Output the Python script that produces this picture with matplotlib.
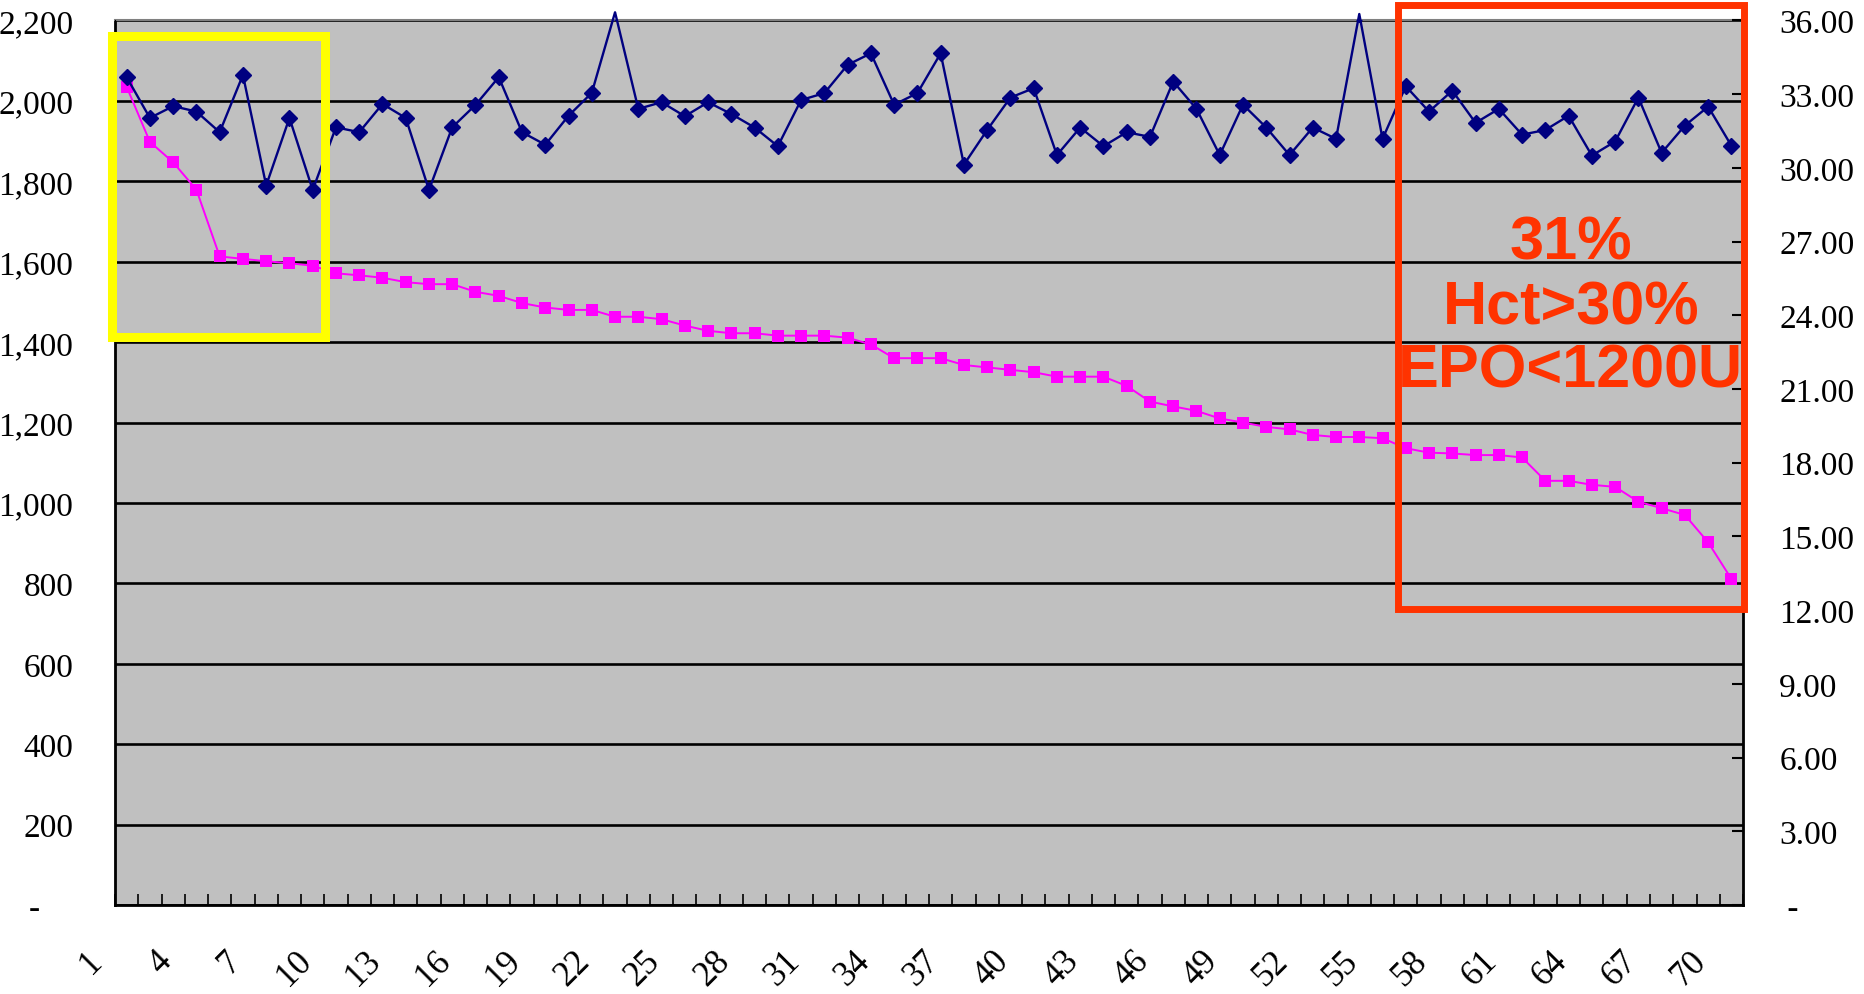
import matplotlib

matplotlib.use("Agg")
import matplotlib.pyplot as plt
import matplotlib.transforms as mtransforms
from matplotlib.patches import Rectangle

patients = list(range(1, 71))
epo_dose = [2035, 1898, 1847, 1779, 1613, 1607, 1601, 1596, 1590, 1571,
            1566, 1560, 1549, 1544, 1544, 1525, 1515, 1497, 1486, 1480,
            1480, 1463, 1463, 1457, 1441, 1428, 1422, 1422, 1416, 1416,
            1416, 1411, 1394, 1360, 1360, 1360, 1343, 1337, 1331, 1325,
            1314, 1314, 1314, 1291, 1252, 1240, 1229, 1210, 1200, 1189,
            1183, 1169, 1164, 1164, 1161, 1136, 1125, 1123, 1119, 1119,
            1113, 1055, 1055, 1045, 1040, 1003, 987, 970, 902, 811]
hct = [33.69, 32.03, 32.51, 32.29, 31.45, 33.78, 29.28, 32.03, 29.10, 31.65,
       31.45, 32.60, 32.03, 29.10, 31.65, 32.56, 33.69, 31.45, 30.94, 32.12,
       33.05, 36.33, 32.40, 32.67, 32.10, 32.67, 32.19, 31.64, 30.88, 32.76,
       33.04, 34.19, 34.66, 32.57, 33.04, 34.66, 30.13, 31.54, 32.86, 33.24,
       30.52, 31.64, 30.88, 31.45, 31.26, 33.51, 32.40, 30.52, 32.57, 31.64,
       30.52, 31.64, 31.18, 36.26, 31.18, 33.32, 32.29, 33.14, 31.83, 32.40,
       31.35, 31.54, 32.12, 30.50, 31.07, 32.86, 30.61, 31.72, 32.49, 30.90]

left_ticks = list(range(0, 2201, 200))
right_ticks = list(range(0, 37, 3))
x_label_ticks = list(range(1, 71, 3))
note_lines = ["31%", "Hct>30%", "EPO<1200U"]

serif = "Liberation Serif"
label_size = 24

fig = plt.figure(figsize=(18.64, 9.95), dpi=100)
ax = fig.add_axes([0.0617, 0.0894, 0.8734, 0.8891])
ax.set_facecolor("#c0c0c0")
ax2 = ax.twinx()

# left axis: EPO dose
ax.plot(patients, epo_dose, color="#ff00ff", linewidth=1.4, marker="s",
        markersize=8.5, markeredgewidth=0, zorder=4)
ax.set_xlim(0.5, 70.5)
ax.set_ylim(0, 2200)
ax.set_yticks(left_ticks)
ax.set_yticklabels(["-    " if v == 0 else f"{v:,}" for v in left_ticks],
                   fontfamily=serif, fontsize=label_size)
ax.tick_params(axis="y", length=0, pad=30)
ax.grid(axis="y", color="black", linewidth=1.9, zorder=1)
ax.set_axisbelow(True)

# x axis: boundary ticks inward, labels every 3 patients
ax.set_xticks([b + 0.5 for b in range(0, 71)], minor=True)
ax.set_xticks(x_label_ticks)
ax.set_xticklabels([str(v) for v in x_label_ticks], rotation=45,
                   ha="right", va="top", fontfamily=serif, fontsize=25)
ax.tick_params(axis="x", which="major", length=0, pad=28)
ax.tick_params(axis="x", which="minor", direction="in", length=8, width=1.2)
shift = mtransforms.ScaledTranslation(-18 / 100, 0, fig.dpi_scale_trans)
for lbl in ax.get_xticklabels():
    lbl.set_transform(lbl.get_transform() + shift)

for side in ["left", "bottom"]:
    ax.spines[side].set_color("black")
    ax.spines[side].set_linewidth(2)
ax.spines["top"].set_color("#808080")
ax.spines["top"].set_linewidth(1.5)

# right axis: Hct
ax2.plot(patients, hct, color="#000080", linewidth=1.7, clip_on=False, zorder=3)
ax2.plot(patients, hct, linestyle="none", marker="D", markersize=8.5,
         color="#000080", zorder=3)
ax2.set_ylim(0, 36)
ax2.set_yticks(right_ticks)
ax2.set_yticklabels([" -" if v == 0 else f"{v:.2f}" for v in right_ticks],
                    fontfamily=serif, fontsize=label_size)
ax2.tick_params(axis="y", direction="in", length=8, width=1.5, pad=26)
ax2.spines["right"].set_color("black")
ax2.spines["right"].set_linewidth(2)
ax2.spines["top"].set_visible(False)

# highlight boxes (left-axis data coordinates)
ax2.add_patch(Rectangle((0.37, 1413), 9.16, 748, transform=ax.transData,
                        fill=False, edgecolor="#ffff00", linewidth=6.5,
                        clip_on=False, zorder=6))
ax2.add_patch(Rectangle((55.66, 736), 14.88, 1502, transform=ax.transData,
                        fill=False, edgecolor="#ff3300", linewidth=5,
                        clip_on=False, zorder=6))
for line, yv in zip(note_lines, [1646, 1485, 1328]):
    ax2.text(63.1, yv, line, transform=ax.transData, ha="center", va="center",
             color="#ff3300", fontsize=44, fontweight="heavy",
             fontfamily="Liberation Sans", zorder=7)

fig.savefig("out.png", dpi=100)
plt.close(fig)
